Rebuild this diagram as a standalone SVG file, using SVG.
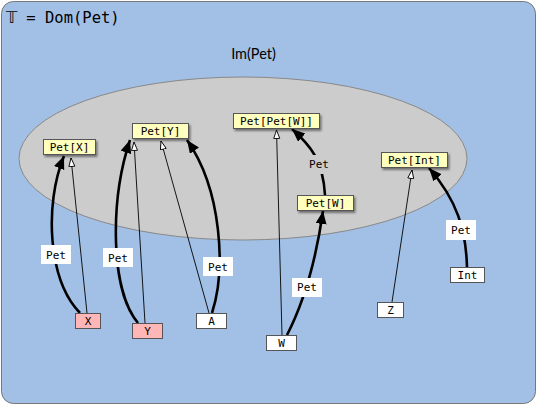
<svg xmlns="http://www.w3.org/2000/svg" width="537" height="405" viewBox="0 0 537 405">
<style>
.mono{font-family:"DejaVu Sans Mono","Liberation Mono",monospace;font-size:11px;fill:#000}
.yel{fill:#ffffbe;stroke:#555;stroke-width:1}
.pink{fill:#ffb6b6;stroke:#555;stroke-width:1}
.wht{fill:#fff;stroke:#555;stroke-width:1}
.lbl{fill:#fff;stroke:none}
.thick{fill:none;stroke:#000;stroke-width:2.6;marker-end:url(#fa)}
.thin{fill:none;stroke:#000;stroke-width:0.9;marker-end:url(#ha)}
</style>
<defs>
<marker id="fa" markerUnits="userSpaceOnUse" markerWidth="15" markerHeight="12" refX="13" refY="5.5" orient="auto"><path d="M0,0 L13,5.5 L0,11 Z" fill="#000"/></marker>
<marker id="ha" markerUnits="userSpaceOnUse" markerWidth="12" markerHeight="10" refX="9" refY="3.5" orient="auto"><path d="M0.5,0.5 L9,3.5 L0.5,6.5 Z" fill="#fff" stroke="#000" stroke-width="0.9"/></marker>
<filter id="sh" x="-20%" y="-40%" width="140%" height="200%"><feDropShadow dx="1.5" dy="2" stdDeviation="1.2" flood-color="#000" flood-opacity="0.45"/></filter>
</defs>
<rect x="1.5" y="1.5" width="534" height="402" rx="12" fill="#a2c0e6" stroke="#777" stroke-width="1"/>
<text x="6" y="23" font-family="DejaVu Sans Mono,Liberation Mono,monospace" font-size="15.5">𝕋 = Dom(Pet)</text>
<ellipse cx="243" cy="158.5" rx="224" ry="81.5" fill="#cccccc" stroke="#888" stroke-width="1"/>
<text x="253.5" y="59" text-anchor="middle" font-family="Lato,'Open Sans',sans-serif" font-size="14.5">Im(Pet)</text>
<g id="connectors">
<path class="thick" d="M80,313 C48,280 44,205 64,156"/>
<path class="thin" d="M87,313 L71,158"/>
<path class="thick" d="M138,323 C110,290 110,200 130,140"/>
<path class="thin" d="M145,323 L134,142"/>
<path class="thin" d="M209,313 L161,141"/>
<path class="thick" d="M212,313 C226,270 222,190 187,140"/>
<path class="thin" d="M282,335 L276.5,130"/>
<path class="thick" d="M287,335 C305,300 316,260 323,211"/>
<path class="thick" d="M325,195 C323,160 310,145 292,129"/>
<path class="thin" d="M392,302 L412,170"/>
<path class="thick" d="M467,267 C466,230 457,200 429,168"/>
<rect class="lbl" x="41" y="245" width="30" height="19"/>
<text class="mono" x="56" y="259" text-anchor="middle">Pet</text>
<rect class="lbl" x="103" y="248" width="30" height="19"/>
<text class="mono" x="118" y="262" text-anchor="middle">Pet</text>
<rect class="lbl" x="203" y="257" width="30" height="19"/>
<text class="mono" x="218" y="271" text-anchor="middle">Pet</text>
<rect class="lbl" x="292" y="278" width="30" height="19"/>
<text class="mono" x="307" y="291" text-anchor="middle">Pet</text>
<rect x="305" y="155" width="28" height="19" fill="#cccccc"/>
<text class="mono" x="319" y="168" text-anchor="middle">Pet</text>
<rect class="lbl" x="446" y="220" width="30" height="20"/>
<text class="mono" x="461" y="234" text-anchor="middle">Pet</text>
</g>
<g id="PetX"><rect class="yel" filter="url(#sh)" x="43.5" y="139.5" width="52" height="15"/><text class="mono" x="69.5" y="151" text-anchor="middle">Pet[X]</text></g>
<g id="PetY"><rect class="yel" filter="url(#sh)" x="132.5" y="123.5" width="56" height="15"/><text class="mono" x="160.5" y="135" text-anchor="middle">Pet[Y]</text></g>
<g id="PetPetW"><rect class="yel" filter="url(#sh)" x="233.5" y="113.5" width="86" height="15"/><text class="mono" x="276.5" y="125" text-anchor="middle">Pet[Pet[W]]</text></g>
<g id="PetW"><rect class="yel" filter="url(#sh)" x="297.5" y="195.5" width="56" height="15"/><text class="mono" x="325.5" y="207" text-anchor="middle">Pet[W]</text></g>
<g id="PetInt"><rect class="yel" filter="url(#sh)" x="381.5" y="152.5" width="66" height="15"/><text class="mono" x="414.5" y="164" text-anchor="middle">Pet[Int]</text></g>
<g id="X"><rect class="pink" x="75.5" y="313.5" width="25" height="15"/><text class="mono" x="88" y="325" text-anchor="middle">X</text></g>
<g id="Y"><rect class="pink" x="132.5" y="323.5" width="30" height="15"/><text class="mono" x="147.5" y="335" text-anchor="middle">Y</text></g>
<g id="A"><rect class="wht" x="196.5" y="313.5" width="30" height="15"/><text class="mono" x="211.5" y="325" text-anchor="middle">A</text></g>
<g id="W"><rect class="wht" x="266.5" y="335.5" width="30" height="15"/><text class="mono" x="281.5" y="347" text-anchor="middle">W</text></g>
<g id="Z"><rect class="wht" x="377.5" y="302.5" width="26" height="15"/><text class="mono" x="390.5" y="314" text-anchor="middle">Z</text></g>
<g id="Int"><rect class="wht" x="450.5" y="267.5" width="34" height="15"/><text class="mono" x="467.5" y="279" text-anchor="middle">Int</text></g>
</svg>
